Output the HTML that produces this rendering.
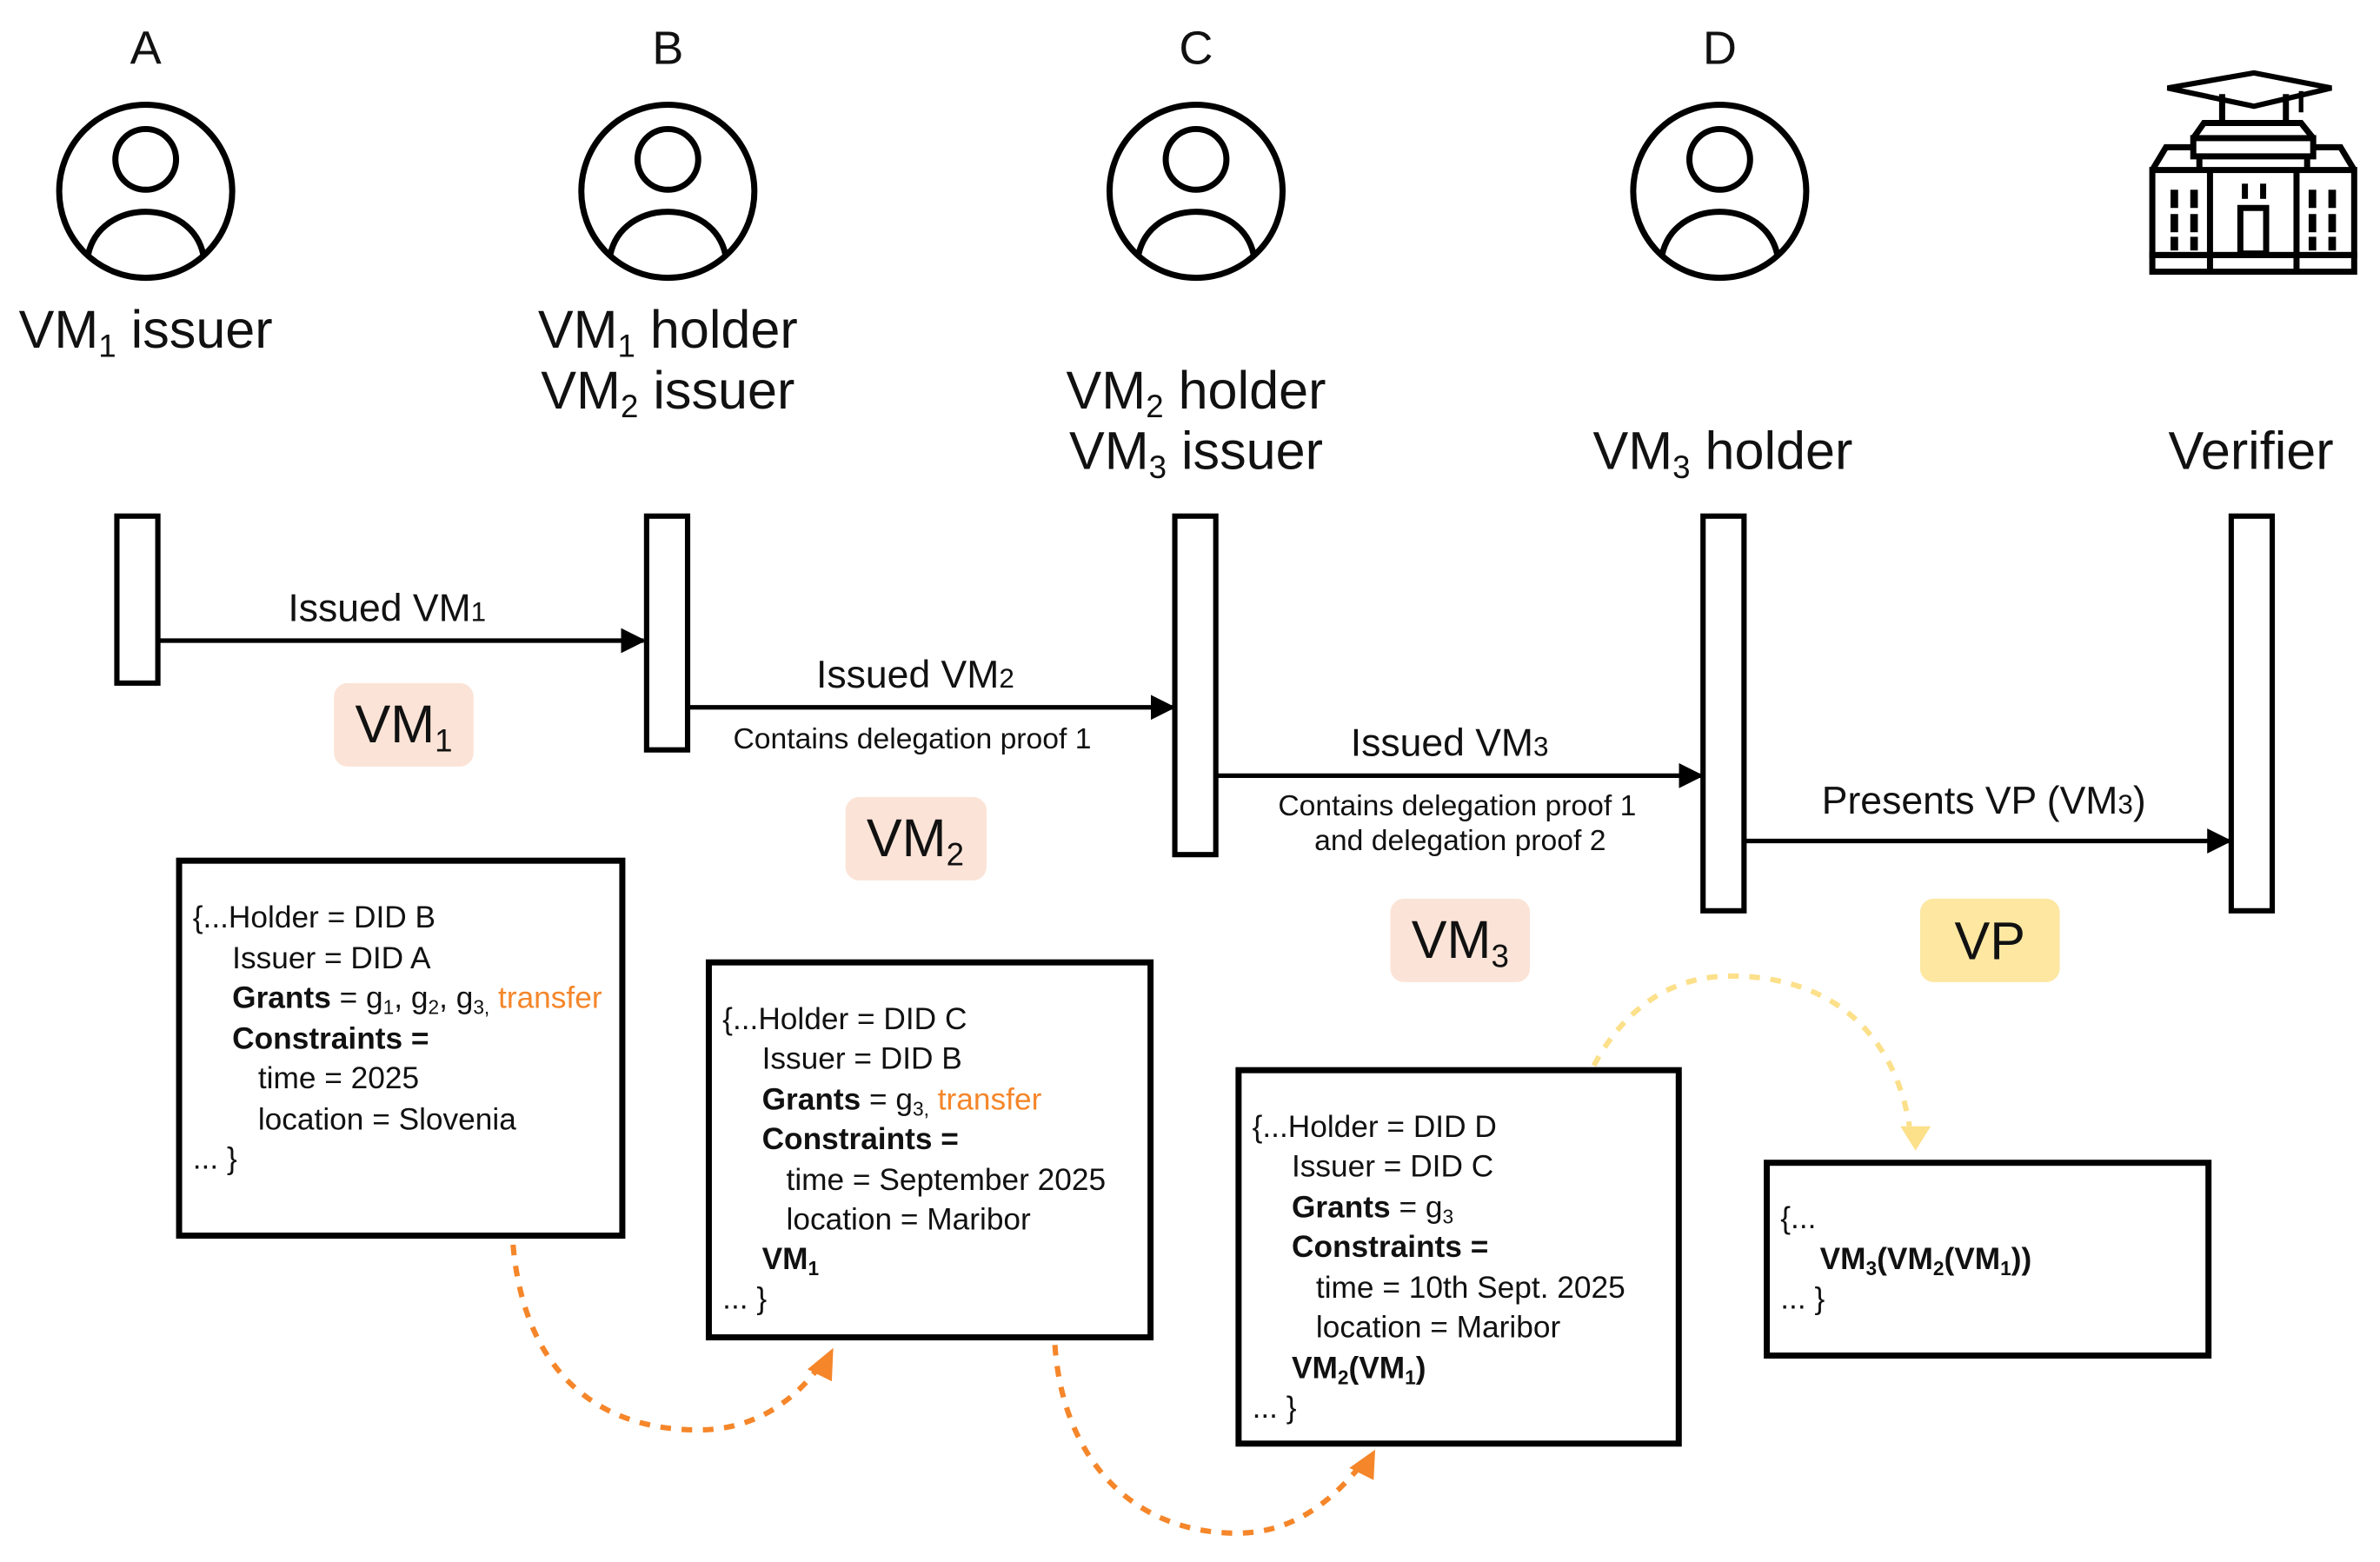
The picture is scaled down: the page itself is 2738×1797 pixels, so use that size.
<!DOCTYPE html>
<html><head><meta charset="utf-8"><style>
html,body{margin:0;padding:0;background:#fff;}
svg{display:block;}
text{font-family:"Liberation Sans",sans-serif;fill:#111;}
.big{font-size:35px;text-anchor:middle;}
.lab{font-size:25.5px;text-anchor:middle;}
.sm{font-size:19.3px;text-anchor:middle;}
.bx{font-size:20.2px;}
.b{font-weight:bold;}
.o{fill:#f5862a;}
</style></head><body>
<svg width="2738" height="1797" viewBox="0 0 1568 1029" preserveAspectRatio="none" xmlns="http://www.w3.org/2000/svg">
<defs>
<marker id="ah" viewBox="0 0 10 10" refX="9" refY="5" markerWidth="5.5" markerHeight="5.5" orient="auto"><path d="M0,0 L10,5 L0,10 z" fill="#000"/></marker>
</defs>
<text class="big" x="96" y="42" style="font-size:31px">A</text>
<text class="big" x="440" y="42" style="font-size:31px">B</text>
<text class="big" x="788" y="42" style="font-size:31px">C</text>
<text class="big" x="1133" y="42" style="font-size:31px">D</text>
<g fill="none" stroke="#000" stroke-width="4">
<g id="p"><circle cx="96" cy="126" r="57"/><circle cx="96" cy="105" r="20"/><path d="M58,168 C66,130 126,130 134,168"/></g>
<use href="#p" x="344"/><use href="#p" x="692"/><use href="#p" x="1037"/>
</g>
<g fill="none" stroke="#000" stroke-width="4">
<rect x="1418" y="112" width="133" height="56"/>
<rect x="1418" y="168" width="133" height="11"/>
<line x1="1456" y1="112" x2="1456" y2="179"/><line x1="1513" y1="112" x2="1513" y2="179"/>
<path d="M1418,112 L1427,97 L1445,97 M1551,112 L1542,97 L1524,97"/>
<rect x="1445" y="91" width="79" height="12"/>
<line x1="1449" y1="103" x2="1449" y2="112"/><line x1="1520" y1="103" x2="1520" y2="112"/>
<path d="M1445,91 L1452,81 L1516,81 L1524,91"/>
<path d="M1464,81 L1464,62 M1506,81 L1506,62"/>
<path d="M1485,48 L1536,58 L1485,70 L1428,58 z" stroke-width="3.5"/>
<path d="M1516,60 L1516,74" stroke-width="3"/>
<rect x="1476" y="137" width="17" height="30"/>
</g>
<g fill="#000">
<rect x="1430" y="125" width="5" height="12"/><rect x="1443" y="125" width="5" height="12"/>
<rect x="1430" y="141" width="5" height="12"/><rect x="1443" y="141" width="5" height="12"/>
<rect x="1430" y="156" width="5" height="9"/><rect x="1443" y="156" width="5" height="9"/>
<rect x="1521" y="125" width="5" height="12"/><rect x="1534" y="125" width="5" height="12"/>
<rect x="1521" y="141" width="5" height="12"/><rect x="1534" y="141" width="5" height="12"/>
<rect x="1521" y="156" width="5" height="9"/><rect x="1534" y="156" width="5" height="9"/>
<rect x="1477" y="121" width="4" height="10"/><rect x="1489" y="121" width="4" height="10"/>
</g>
<text class="big" x="96" y="229">VM<tspan font-size="21" dy="6">1</tspan><tspan dy="-6"> issuer</tspan></text>
<text class="big" x="440" y="229">VM<tspan font-size="21" dy="6">1</tspan><tspan dy="-6"> holder</tspan></text>
<text class="big" x="440" y="269">VM<tspan font-size="21" dy="6">2</tspan><tspan dy="-6"> issuer</tspan></text>
<text class="big" x="788" y="269">VM<tspan font-size="21" dy="6">2</tspan><tspan dy="-6"> holder</tspan></text>
<text class="big" x="788" y="309">VM<tspan font-size="21" dy="6">3</tspan><tspan dy="-6"> issuer</tspan></text>
<text class="big" x="1135" y="309">VM<tspan font-size="21" dy="6">3</tspan><tspan dy="-6"> holder</tspan></text>
<text class="big" x="1483" y="309">Verifier</text>
<g fill="#fff" stroke="#000" stroke-width="3.5">
<rect x="77" y="340" width="27" height="110"/>
<rect x="426" y="340" width="27" height="154"/>
<rect x="774" y="340" width="27" height="223"/>
<rect x="1122" y="340" width="27" height="260"/>
<rect x="1470" y="340" width="27" height="260"/>
</g>
<g stroke="#000" stroke-width="3" marker-end="url(#ah)">
<line x1="104" y1="422" x2="424" y2="422"/>
<line x1="453" y1="466" x2="773" y2="466"/>
<line x1="801" y1="511" x2="1121" y2="511"/>
<line x1="1149" y1="554" x2="1469" y2="554"/>
</g>
<text class="lab" x="255" y="409">Issued VM<tspan font-size="18">1</tspan></text>
<text class="lab" x="603" y="453">Issued VM<tspan font-size="18">2</tspan></text>
<text class="sm" x="601" y="493">Contains delegation proof 1</text>
<text class="lab" x="955" y="498">Issued VM<tspan font-size="18">3</tspan></text>
<text class="sm" x="960" y="537">Contains delegation proof 1</text>
<text class="sm" x="962" y="560">and delegation proof 2</text>
<text class="lab" x="1307" y="536">Presents VP (VM<tspan font-size="18">3</tspan>)</text>
<rect x="220" y="450" width="92" height="55" rx="9" fill="#fbe4d7"/>
<text class="big" x="266" y="489">VM<tspan font-size="21" dy="6">1</tspan></text>
<rect x="557" y="525" width="93" height="55" rx="9" fill="#fbe4d7"/>
<text class="big" x="603" y="564">VM<tspan font-size="21" dy="6">2</tspan></text>
<rect x="916" y="592" width="92" height="55" rx="9" fill="#fbe4d7"/>
<text class="big" x="962" y="631">VM<tspan font-size="21" dy="6">3</tspan></text>
<rect x="1265" y="592" width="92" height="55" rx="9" fill="#fde7a1"/>
<text class="big" x="1311" y="632">VP</text>
<g fill="none" stroke="#000" stroke-width="4">
<rect x="118" y="567" width="292" height="247"/>
<rect x="467" y="634" width="291" height="247"/>
<rect x="816" y="705" width="290" height="246"/>
<rect x="1164" y="766" width="291" height="127"/>
</g>
<g class="bx">
<text class="bx" x="127" y="611">{...Holder = DID B</text>
<text class="bx" x="153" y="638">Issuer = DID A</text>
<text class="bx" x="153" y="664"><tspan class="b">Grants</tspan> = g<tspan font-size="13" dy="4">1</tspan><tspan dy="-4">, g</tspan><tspan font-size="13" dy="4">2</tspan><tspan dy="-4">, g</tspan><tspan font-size="13" dy="4">3,</tspan><tspan dy="-4" class="o"> transfer</tspan></text>
<text class="bx b" x="153" y="691">Constraints =</text>
<text class="bx" x="170" y="717">time = 2025</text>
<text class="bx" x="170" y="744">location = Slovenia</text>
<text class="bx" x="127" y="770">... }</text>

<text class="bx" x="476" y="678">{...Holder = DID C</text>
<text class="bx" x="502" y="704">Issuer = DID B</text>
<text class="bx" x="502" y="731"><tspan class="b">Grants</tspan> = g<tspan font-size="13" dy="4">3,</tspan><tspan dy="-4" class="o"> transfer</tspan></text>
<text class="bx b" x="502" y="757">Constraints =</text>
<text class="bx" x="518" y="784">time = September 2025</text>
<text class="bx" x="518" y="810">location = Maribor</text>
<text class="bx b" x="502" y="836">VM<tspan font-size="13" dy="4">1</tspan></text>
<text class="bx" x="476" y="862">... }</text>

<text class="bx" x="825" y="749">{...Holder = DID D</text>
<text class="bx" x="851" y="775">Issuer = DID C</text>
<text class="bx" x="851" y="802"><tspan class="b">Grants</tspan> = g<tspan font-size="13" dy="4">3</tspan></text>
<text class="bx b" x="851" y="828">Constraints =</text>
<text class="bx" x="867" y="855">time = 10th Sept. 2025</text>
<text class="bx" x="867" y="881">location = Maribor</text>
<text class="bx b" x="851" y="908">VM<tspan font-size="13" dy="4">2</tspan><tspan dy="-4">(VM</tspan><tspan font-size="13" dy="4">1</tspan><tspan dy="-4">)</tspan></text>
<text class="bx" x="825" y="934">... }</text>

<text class="bx" x="1173" y="809">{...</text>
<text class="bx b" x="1199" y="836">VM<tspan font-size="13" dy="4">3</tspan><tspan dy="-4">(VM</tspan><tspan font-size="13" dy="4">2</tspan><tspan dy="-4">(VM</tspan><tspan font-size="13" dy="4">1</tspan><tspan dy="-4">))</tspan></text>
<text class="bx" x="1173" y="862">... }</text>
</g>
<g fill="none" stroke-width="3.5" stroke-dasharray="7,7">
<path d="M338,820 C345,900 390,942 460,942 C500,942 525,920 540,900" stroke="#f5862a"/>
<path d="M695,886 C700,960 745,1010 815,1010 C855,1010 880,985 896,966" stroke="#f5862a"/>
<path d="M1050,702 C1070,665 1100,643 1140,643 C1215,643 1250,690 1258,742" stroke="#fce08a"/>
</g>
<path d="M549,888 L548,910 L532,902 z" fill="#f5862a"/>
<path d="M906,955 L905,975 L889,967 z" fill="#f5862a"/>
<path d="M1252,742 L1272,742 L1262,758 z" fill="#fce08a"/>
</svg>
</body></html>
